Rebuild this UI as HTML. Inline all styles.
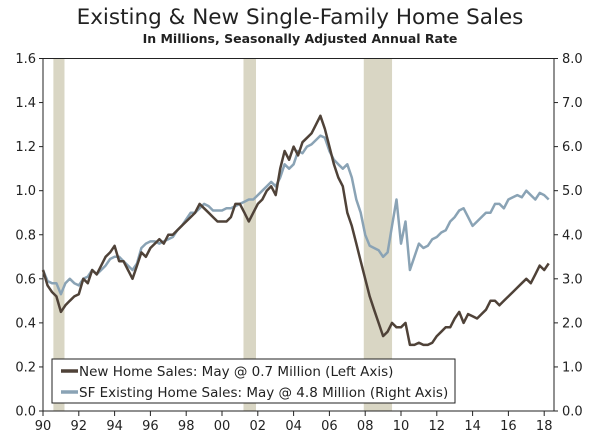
<!DOCTYPE html>
<html><head><meta charset="utf-8"><style>
body{margin:0;background:#fff;}
svg{display:block;font-family:"DejaVu Sans","Liberation Sans",sans-serif;}
</style></head><body>
<svg id="chart" width="600" height="443">
<text x="300" y="24" text-anchor="middle" font-size="21.5" fill="#222">Existing &amp; New Single-Family Home Sales</text>
<text x="300" y="43" text-anchor="middle" font-size="12.5" font-weight="600" fill="#222">In Millions, Seasonally Adjusted Annual Rate</text>
<g id="rec"></g><g id="axes"></g><g id="lines"></g>
<g>
<rect x="52" y="359" width="403" height="44" fill="#fff" stroke="#222" stroke-width="1"/>
<line x1="61" y1="371" x2="78" y2="371" stroke="#4f4238" stroke-width="3.5"/>
<text x="79" y="376" font-size="13.5" fill="#222">New Home Sales: May @ 0.7 Million (Left Axis)</text>
<line x1="61" y1="392" x2="78" y2="392" stroke="#8aa3b5" stroke-width="3.5"/>
<text x="79" y="397" font-size="13.5" fill="#222">SF Existing Home Sales: May @ 4.8 Million (Right Axis)</text>
</g>
</svg>
<script>
const newSales=[0.64,0.57,0.54,0.52,0.45,0.48,0.50,0.52,0.53,0.60,0.58,0.64,0.62,0.66,0.70,0.72,0.75,0.68,0.68,0.64,0.60,0.66,0.72,0.70,0.74,0.76,0.78,0.76,0.80,0.80,0.82,0.84,0.86,0.88,0.90,0.94,0.92,0.90,0.88,0.86,0.86,0.86,0.88,0.94,0.94,0.90,0.86,0.90,0.94,0.96,1.00,1.02,0.98,1.10,1.18,1.14,1.20,1.16,1.22,1.24,1.26,1.30,1.34,1.28,1.20,1.12,1.06,1.02,0.90,0.84,0.76,0.68,0.60,0.52,0.46,0.40,0.34,0.36,0.40,0.38,0.38,0.40,0.30,0.30,0.31,0.30,0.30,0.31,0.34,0.36,0.38,0.38,0.42,0.45,0.40,0.44,0.43,0.42,0.44,0.46,0.50,0.50,0.48,0.50,0.52,0.54,0.56,0.58,0.60,0.58,0.62,0.66,0.64,0.67];
const existingSales=[3.2,2.95,2.9,2.9,2.65,2.9,3.0,2.9,2.85,3.0,3.05,3.2,3.1,3.2,3.3,3.45,3.5,3.5,3.4,3.3,3.2,3.35,3.7,3.8,3.85,3.85,3.8,3.85,3.9,3.95,4.1,4.2,4.35,4.5,4.5,4.6,4.7,4.65,4.55,4.55,4.55,4.6,4.6,4.65,4.7,4.75,4.8,4.8,4.9,5.0,5.1,5.2,5.1,5.3,5.6,5.5,5.6,5.9,5.85,6.0,6.05,6.15,6.25,6.2,5.9,5.7,5.6,5.5,5.6,5.3,4.8,4.5,4.0,3.75,3.7,3.65,3.5,3.6,4.2,4.8,3.8,4.3,3.2,3.5,3.8,3.7,3.75,3.9,3.95,4.05,4.1,4.3,4.4,4.55,4.6,4.4,4.2,4.3,4.4,4.5,4.5,4.7,4.7,4.6,4.8,4.85,4.9,4.85,5.0,4.9,4.8,4.95,4.9,4.8];
const startYear=1990;
const recessions=[[1990.58,1991.2],[2001.2,2001.9],[2007.92,2009.5]];
const leftTicks=["0.0","0.2","0.4","0.6","0.8","1.0","1.2","1.4","1.6"];
const rightTicks=["0.0","1.0","2.0","3.0","4.0","5.0","6.0","7.0","8.0"];
const yearLabels=["90","92","94","96","98","00","02","04","06","08","10","12","14","16","18"];
const NS="http://www.w3.org/2000/svg";
const X0=43,X1=554,YT=58.5,YB=411;
const xs=t=>X0+(t-1990)*17.9;
const yl=v=>YB-(v/1.6)*(YB-YT);
const yr=v=>YB-(v/8)*(YB-YT);
function mk(tag,attrs,parent){const e=document.createElementNS(NS,tag);for(const k in attrs)e.setAttribute(k,attrs[k]);parent.appendChild(e);return e;}
const rec=document.getElementById('rec'),ax=document.getElementById('axes'),ln=document.getElementById('lines');
recessions.forEach(r=>{const e=mk('rect',{x:xs(r[0]),y:YT,width:xs(r[1])-xs(r[0]),height:YB-YT,fill:'#d9d6c4'},rec);

});
mk('path',{d:`M${X0},${YB}V${YT}H${X1}V${YB}`,fill:'none',stroke:'#222','stroke-width':1},ax);
leftTicks.forEach(t=>{const y=yl(+t);mk('line',{x1:X0-4,x2:X0,y1:y,y2:y,stroke:'#222'},ax);
const e=mk('text',{x:X0-7,y:y+4.5,'text-anchor':'end','font-size':13,fill:'#222'},ax);e.textContent=t;

});
rightTicks.forEach(t=>{const y=yr(+t);mk('line',{x1:X1,x2:X1+4,y1:y,y2:y,stroke:'#222'},ax);
const e=mk('text',{x:X1+8,y:y+4.5,'font-size':13,fill:'#222'},ax);e.textContent=t;

});
mk('line',{x1:X0,x2:X1,y1:YB,y2:YB,stroke:'#222'},ax);
yearLabels.forEach((t,i)=>{const x=xs(1990+2*i);mk('line',{x1:x,x2:x,y1:YB,y2:YB+5,stroke:'#222'},ax);
const e=mk('text',{x:x,y:YB+19,'text-anchor':'middle','font-size':13,fill:'#222'},ax);e.textContent=t;

});
const p2=existingSales.map((v,i)=>(i?'L':'M')+xs(startYear+i/4).toFixed(1)+','+yr(v).toFixed(1)).join('');
const e2=mk('path',{d:p2,fill:'none',stroke:'#8aa3b5','stroke-width':2.5,'stroke-linejoin':'round'},ln);


const p1=newSales.map((v,i)=>(i?'L':'M')+xs(startYear+i/4).toFixed(1)+','+yl(v).toFixed(1)).join('');
const e1=mk('path',{d:p1,fill:'none',stroke:'#4f4238','stroke-width':2.5,'stroke-linejoin':'round'},ln);


</script>
</body></html>
